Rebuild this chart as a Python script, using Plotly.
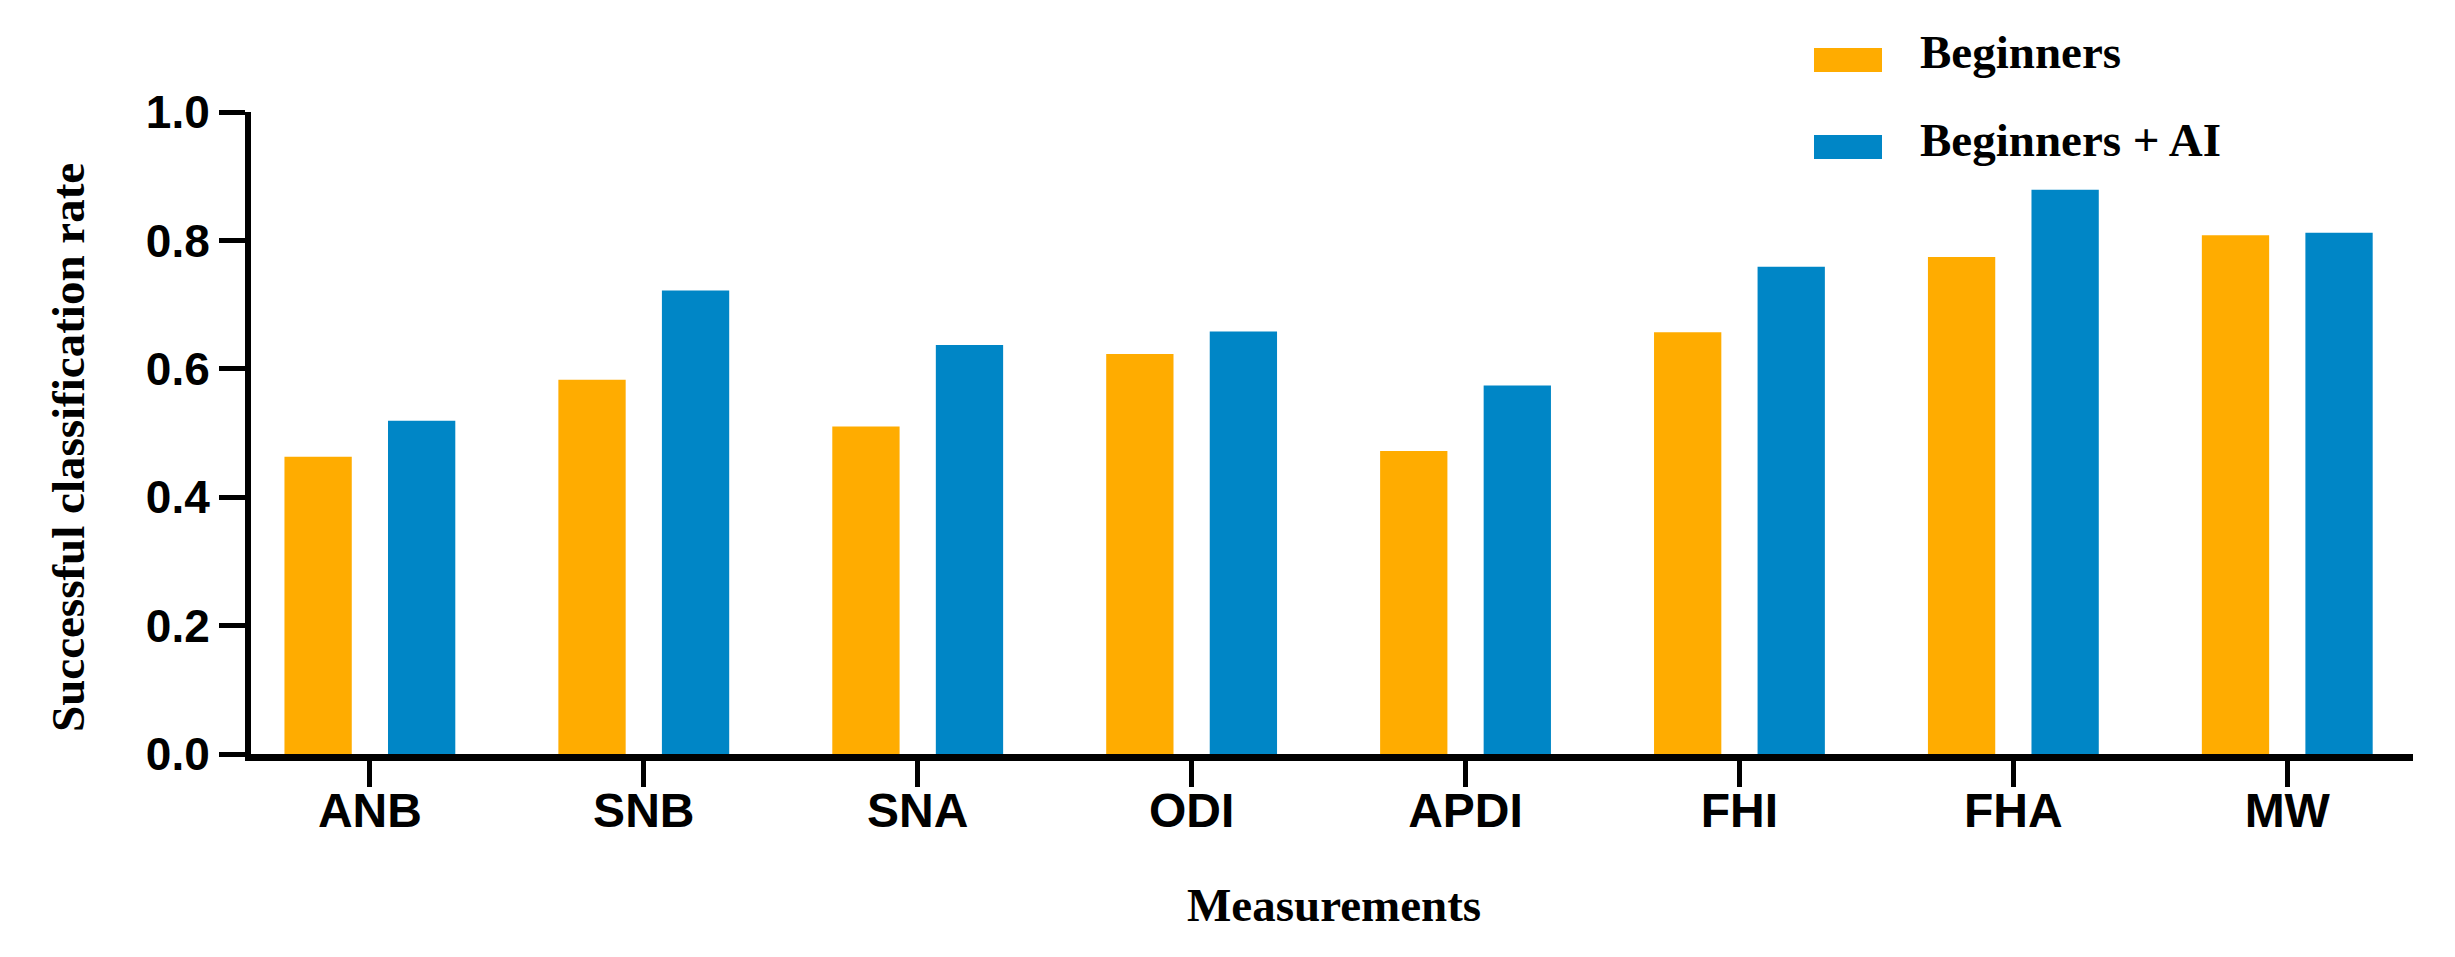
import plotly.graph_objects as go

categories = ["ANB", "SNB", "SNA", "ODI", "APDI", "FHI", "FHA", "MW"]
beginners = [0.463, 0.583, 0.510, 0.623, 0.472, 0.657, 0.774, 0.808]
beginners_ai = [0.519, 0.722, 0.637, 0.658, 0.574, 0.759, 0.879, 0.812]
series_names = ["Beginners", "Beginners + AI"]
y_tick_vals = [0.0, 0.2, 0.4, 0.6, 0.8, 1.0]
y_tick_text = ["0.0", "0.2", "0.4", "0.6", "0.8", "1.0"]

ORANGE = "#FFAC00"
BLUE = "#0086C6"
SANS = "Liberation Sans, Arial, sans-serif"
SERIF = "Liberation Serif, Times New Roman, serif"

fig = go.Figure()
fig.add_trace(go.Bar(x=categories, y=beginners, name=series_names[0],
                     marker=dict(color=ORANGE, line=dict(width=0))))
fig.add_trace(go.Bar(x=categories, y=beginners_ai, name=series_names[1],
                     marker=dict(color=BLUE, line=dict(width=0))))

W, H = 2455, 957
L, R, T, B = 251, 42, 112, 203
pw = W - L - R
ph = H - T - B

def px(xp):
    return (xp - L) / pw

def py(yp):
    return (H - B - yp) / ph

fig.update_layout(
    width=W, height=H,
    margin=dict(l=L, r=R, t=T, b=B, pad=0),
    paper_bgcolor="white", plot_bgcolor="white",
    barmode="group", bargap=0.244, bargroupgap=0.35,
    showlegend=False,
    xaxis=dict(
        range=[-0.434, 7.459], showgrid=False, zeroline=False,
        showline=True, linecolor="black", linewidth=7,
        ticks="outside", ticklen=26, tickwidth=5, tickcolor="black",
        ticklabelstandoff=-18,
        tickfont=dict(family=SANS, size=48, color="black", weight="bold"),
    ),
    yaxis=dict(
        range=[0, 1], showgrid=False, zeroline=False,
        tickvals=y_tick_vals, ticktext=y_tick_text,
        showline=True, linecolor="black", linewidth=6,
        ticks="outside", ticklen=26, tickwidth=5, tickcolor="black",
        tickfont=dict(family=SANS, size=46, color="black", weight="bold"),
    ),
)

# legend (drawn manually to match wide swatches)
legend_rows = [(series_names[0], ORANGE, 48, 72, 52), (series_names[1], BLUE, 135, 159, 140)]
for name, col, y0, y1, ytxt in legend_rows:
    fig.add_shape(type="rect", xref="paper", yref="paper",
                  x0=px(1814), x1=px(1882), y0=py(y1), y1=py(y0),
                  fillcolor=col, line=dict(width=0))
    fig.add_annotation(text=name, xref="paper", yref="paper",
                       x=px(1918), y=py(ytxt), xanchor="left", yanchor="middle",
                       showarrow=False,
                       font=dict(family=SERIF, size=47, color="black", weight="bold"))

fig.add_annotation(text="Successful classification rate", xref="paper", yref="paper",
                   x=px(68), y=py(448), xanchor="center", yanchor="middle",
                   textangle=-90, showarrow=False,
                   font=dict(family=SERIF, size=47, color="black", weight="bold"))
fig.add_annotation(text="Measurements", xref="paper", yref="paper",
                   x=px(1334), y=py(905), xanchor="center", yanchor="middle",
                   showarrow=False,
                   font=dict(family=SERIF, size=47, color="black", weight="bold"))

fig.write_html("out.html", config={"displayModeBar": False},
               post_script="document.body.style.margin='0';document.body.style.overflow='hidden';")
